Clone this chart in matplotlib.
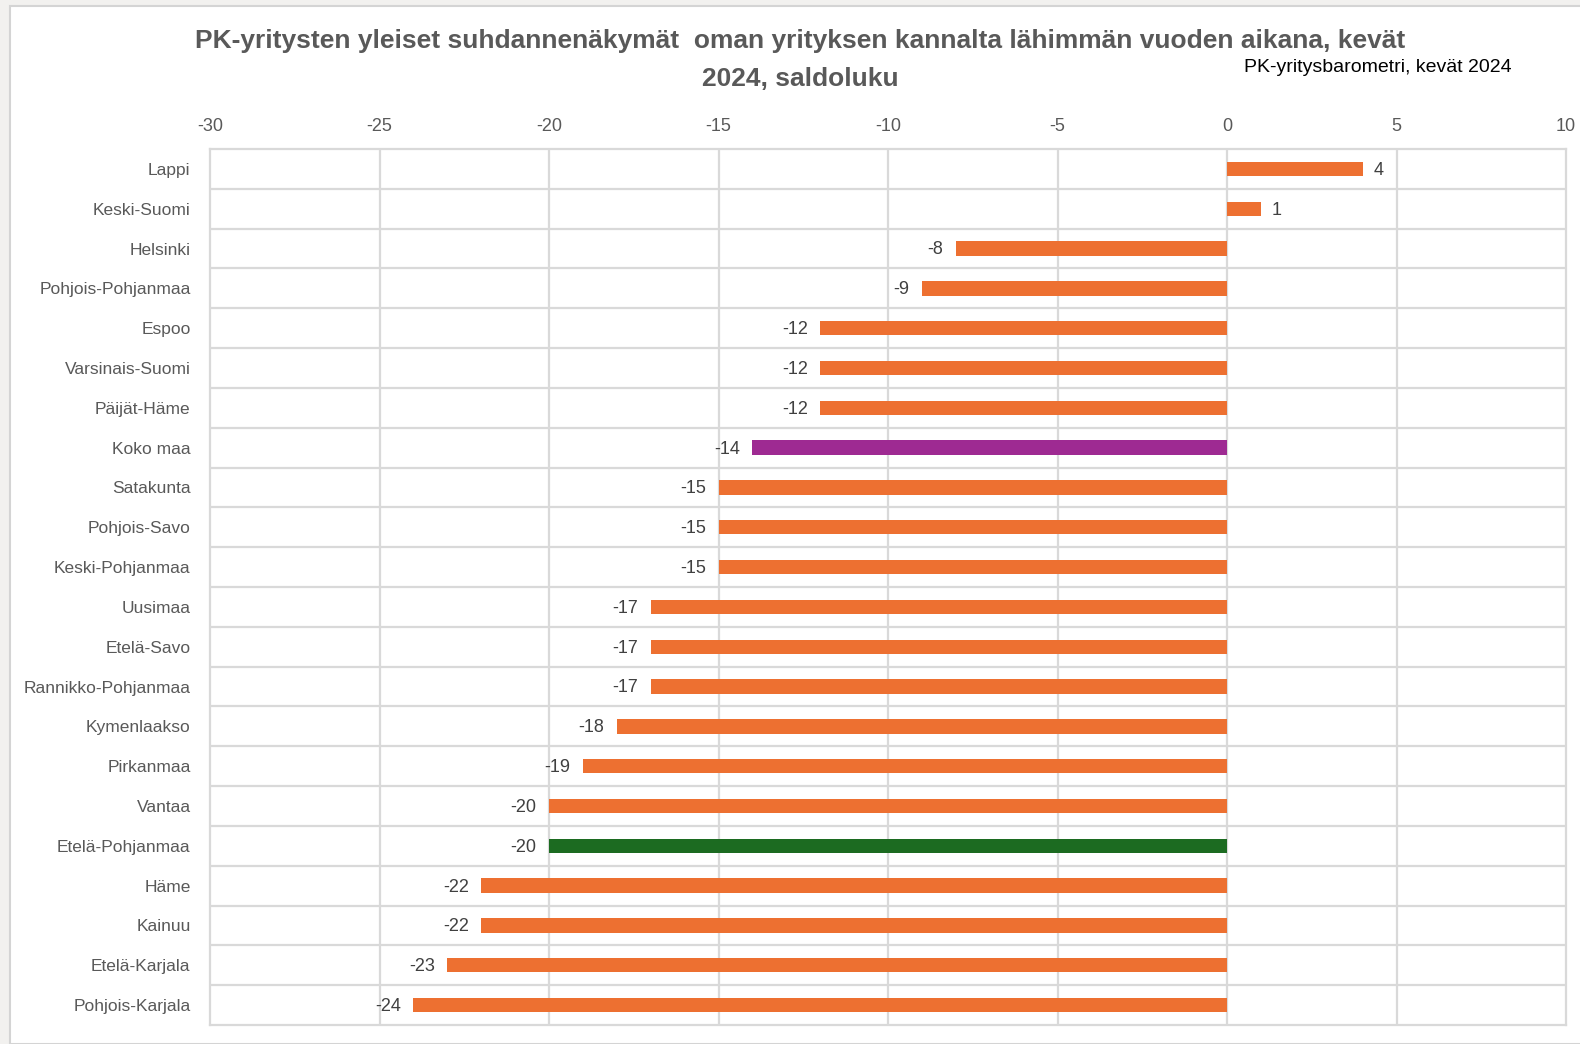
import matplotlib.pyplot as plt
from matplotlib.patches import Rectangle
import numpy as np

regions = ["Lappi", "Keski-Suomi", "Helsinki", "Pohjois-Pohjanmaa", "Espoo",
           "Varsinais-Suomi", "Päijät-Häme", "Koko maa", "Satakunta",
           "Pohjois-Savo", "Keski-Pohjanmaa", "Uusimaa", "Etelä-Savo",
           "Rannikko-Pohjanmaa", "Kymenlaakso", "Pirkanmaa", "Vantaa",
           "Etelä-Pohjanmaa", "Häme", "Kainuu", "Etelä-Karjala", "Pohjois-Karjala"]
saldo = [4, 1, -8, -9, -12, -12, -12, -14, -15, -15, -15, -17, -17, -17,
         -18, -19, -20, -20, -22, -22, -23, -24]

orange = '#ed7031'
purple = '#9e2a92'
green = '#1c6b21'
grid = '#d9d9d9'
text_gray = '#595959'

plt.rcParams['font.family'] = ['Liberation Sans', 'DejaVu Sans']
plt.rcParams['axes.unicode_minus'] = False

colors = []
for r in regions:
    if r == "Koko maa":
        colors.append(purple)
    elif r == "Etelä-Pohjanmaa":
        colors.append(green)
    else:
        colors.append(orange)

fig = plt.figure(figsize=(15.8, 10.44), dpi=100, facecolor='#f2f1ef')
fig.patches.append(Rectangle((10 / 1580, 0), 1.0, 1 - 6 / 1044, transform=fig.transFigure,
                             facecolor='white', edgecolor='#d4d4d4', linewidth=1.5, zorder=-10))

ax = fig.add_axes([210 / 1580, 1 - 1025 / 1044, (1566 - 210) / 1580, (1025 - 149) / 1044])
ax.set_facecolor('white')

y = np.arange(len(regions))
ax.barh(y, saldo, height=0.36, color=colors, zorder=3)

ax.set_xlim(-30, 10)
ax.set_ylim(len(regions) - 0.5, -0.5)
ax.set_xticks(np.arange(-30, 11, 5))
ax.xaxis.tick_top()
ax.tick_params(axis='x', length=0, pad=10, labelsize=13, labelcolor=text_gray)
ax.set_yticks(y)
ax.set_yticklabels(regions)
ax.tick_params(axis='y', length=0, pad=14, labelsize=12.5, labelcolor=text_gray)

for xv in np.arange(-25, 10, 5):
    ax.axvline(xv, color=grid, linewidth=1.6, zorder=1)
for yv in np.arange(0.5, len(regions) - 0.5, 1):
    ax.axhline(yv, color=grid, linewidth=1.6, zorder=1)
for s in ax.spines.values():
    s.set_color(grid)
    s.set_linewidth(1.6)

for yi, v in zip(y, saldo):
    if v < 0:
        ax.annotate(str(v), (v, yi), xytext=(-9, -1), textcoords='offset points',
                    ha='right', va='center', fontsize=13, color='#404040', zorder=4)
    else:
        ax.annotate(str(v), (v, yi), xytext=(8, -1), textcoords='offset points',
                    ha='left', va='center', fontsize=13, color='#404040', zorder=4)

fig.text(800 / 1580, 1 - 41 / 1044,
         "PK-yritysten yleiset suhdannenäkymät  oman yrityksen kannalta lähimmän vuoden aikana, kevät",
         ha='center', va='center', fontsize=19, fontweight='bold', color=text_gray)
fig.text(800 / 1580, 1 - 79 / 1044, "2024, saldoluku",
         ha='center', va='center', fontsize=19, fontweight='bold', color=text_gray)
fig.text(1378 / 1580, 1 - 68 / 1044, "PK-yritysbarometri, kevät 2024",
         ha='center', va='center', fontsize=14, color='black')

fig.savefig("out.png", dpi=100, facecolor=fig.get_facecolor())
